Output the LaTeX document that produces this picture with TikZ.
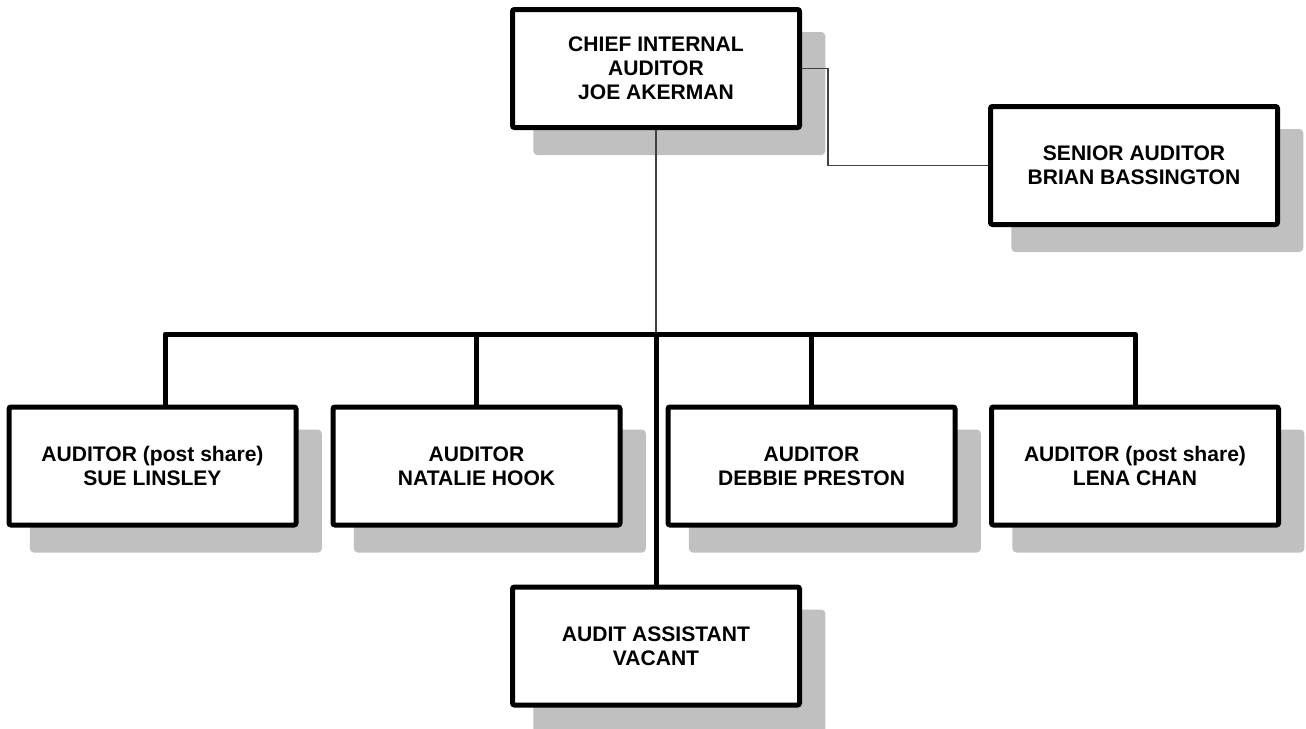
\documentclass[tikz,border=0pt]{standalone}
\usepackage{fontspec}
\setmainfont{Liberation Sans}
\usetikzlibrary{shadows,calc}
\definecolor{shadowc}{HTML}{C0C0C0}
\definecolor{thinc}{HTML}{404040}
\begin{document}
\begin{tikzpicture}[x=0.75pt,y=-0.75pt,
  post/.style={draw=black, fill=white, line width=3.75pt, rounded corners=1.5pt,
    minimum width=215.25pt, minimum height=88.5pt, inner sep=0pt, align=center,
    font=\fontsize{15.8}{18}\selectfont\bfseries,
    general shadow={fill=shadowc, draw=shadowc, line width=3.75pt, rounded corners=2pt,
      shadow xshift=17.5pt, shadow yshift=-18.75pt}},
  thinline/.style={draw=thinc, line width=0.9pt},
  busline/.style={draw=black, line width=3.75pt, line join=round}]
\useasboundingbox (0,0) rectangle (1306,728);
\fill[white] (0,0) rectangle (1306,728);
\node[post] (chief) at (656,68.5) {CHIEF INTERNAL\\AUDITOR\\JOE AKERMAN};
\node[post] (senior) at (1134,165.5) {SENIOR AUDITOR\\BRIAN BASSINGTON};
\node[post] (b1) at (152.5,466) {AUDITOR (post share)\\SUE LINSLEY};
\node[post] (b2) at (476.5,466) {AUDITOR\\NATALIE HOOK};
\node[post] (b3) at (811.5,466) {AUDITOR\\DEBBIE PRESTON};
\node[post] (b4) at (1135,466) {AUDITOR (post share)\\LENA CHAN};
\node[post] (vac) at (656,646) {AUDIT ASSISTANT\\VACANT};
\coordinate (j) at (656,334);
\coordinate (d1) at ($(b1.north)+(12.5,0)$);
\draw[thinline] (chief.east) -- ++(26,0) |- (senior.west);
\draw[thinline] (chief.south) -- (j);
\draw[busline] (d1) |- (j) -| (b4.north);
\draw[busline] (b2.north) -- (b2.north |- j);
\draw[busline] (b3.north) -- (b3.north |- j);
\draw[busline] (j) -- (vac.north);
\end{tikzpicture}
\end{document}
